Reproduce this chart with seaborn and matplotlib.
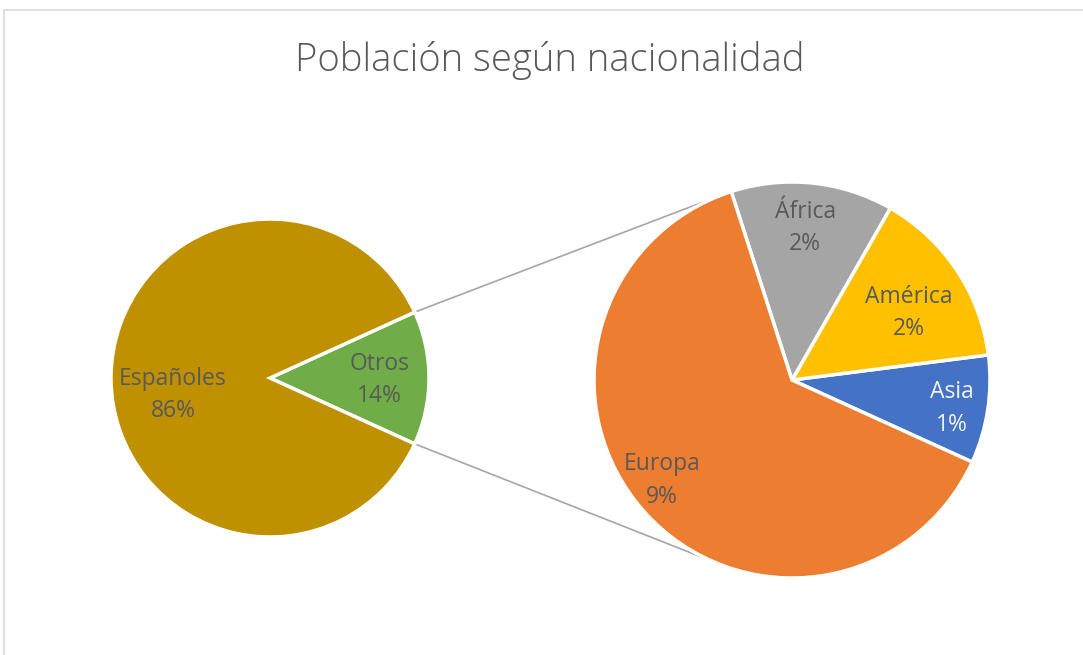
import numpy as np
import matplotlib
matplotlib.use("Agg")
import matplotlib.pyplot as plt
from matplotlib.patches import Rectangle
import seaborn as sns

# ---- data ----
main_labels = ["Otros", "Españoles"]
main_values = [13.6, 86.4]
main_colors = ["#70AD47", "#BF9000"]

sub_labels = ["Asia", "América", "África", "Europa"]
sub_values = [1.2, 2.0, 1.8, 8.6]
sub_colors = ["#4472C4", "#FFC000", "#A5A5A5", "#ED7D31"]

title = "Población según nacionalidad"

# ---- style ----
sns.set_theme(style="white")
plt.rcParams["font.family"] = ["Open Sans", "DejaVu Sans"]

W, H = 1083, 655
fig = plt.figure(figsize=(W / 100, H / 100), dpi=100)
ax = fig.add_axes([0, 0, 1, 1])
ax.set_xlim(0, W)
ax.set_ylim(0, H)
ax.set_aspect("equal")
ax.axis("off")

# chart frame
ax.add_patch(Rectangle((4, -5), W + 10, H - 10 + 5, fill=False,
                       edgecolor="#D9D9D9", linewidth=1.2))

label_color = "#595959"
label_size = 16.5
line_sp = 1.45

# left (main) pie
c1 = (270, H - 378)
r1 = 159
other_share = main_values[0] / sum(main_values)
start1 = -other_share * 360 / 2
w1, _ = ax.pie(main_values, colors=main_colors, startangle=start1,
               counterclock=True, center=c1, radius=r1,
               wedgeprops=dict(edgecolor="white", linewidth=2.5),
               frame=True)

main_label_pos = [(0.69, -1.0), (0.62, 10.0)]  # radial fraction, angle offset
for wdg, lab, val, (fr, off) in zip(w1, main_labels, main_values, main_label_pos):
    ang = np.deg2rad((wdg.theta1 + wdg.theta2) / 2 + off)
    x = c1[0] + fr * r1 * np.cos(ang)
    y = c1[1] + fr * r1 * np.sin(ang)
    ax.text(x, y, f"{lab}\n{round(val / sum(main_values) * 100):.0f}%",
            ha="center", va="center", fontsize=label_size, color=label_color,
            linespacing=line_sp)

# right (sub) pie
c2 = (792, H - 380)
r2 = 198
w2, _ = ax.pie(sub_values, colors=sub_colors, startangle=start1,
               counterclock=True, center=c2, radius=r2,
               wedgeprops=dict(edgecolor="white", linewidth=2.5),
               frame=True)

total = sum(main_values)
sub_label_pos = [(0.82, -1.5), (0.68, -4.0), (0.77, 1.0), (0.83, -4.0)]
for wdg, lab, val, (fr, off) in zip(w2, sub_labels, sub_values, sub_label_pos):
    ang = np.deg2rad((wdg.theta1 + wdg.theta2) / 2 + off)
    x = c2[0] + fr * r2 * np.cos(ang)
    y = c2[1] + fr * r2 * np.sin(ang)
    col = "#F2F2F2" if lab == "Asia" else label_color
    ax.text(x, y, f"{lab}\n{round(val / total * 100):.0f}%",
            ha="center", va="center", fontsize=label_size, color=col,
            linespacing=line_sp)

# connector lines
a_top = np.deg2rad(w1[0].theta2)
a_bot = np.deg2rad(w1[0].theta1)
p_top = (c1[0] + r1 * np.cos(a_top), c1[1] + r1 * np.sin(a_top))
p_bot = (c1[0] + r1 * np.cos(a_bot), c1[1] + r1 * np.sin(a_bot))
q_top_ang = np.deg2rad(111.5)
q_bot_ang = np.deg2rad(247.0)
q_top = (c2[0] + r2 * np.cos(q_top_ang), c2[1] + r2 * np.sin(q_top_ang))
q_bot = (c2[0] + r2 * np.cos(q_bot_ang), c2[1] + r2 * np.sin(q_bot_ang))
ax.plot([p_top[0], q_top[0]], [p_top[1], q_top[1]], color="#A6A6A6", lw=1.2, zorder=0)
ax.plot([p_bot[0], q_bot[0]], [p_bot[1], q_bot[1]], color="#A6A6A6", lw=1.2, zorder=0)

ax.set_xlim(0, W)
ax.set_ylim(0, H)

ax.text(550, H - 61, title, ha="center", va="center", fontsize=27.5,
        color="#595959", fontweight="light")

fig.savefig("out.png", dpi=100)
